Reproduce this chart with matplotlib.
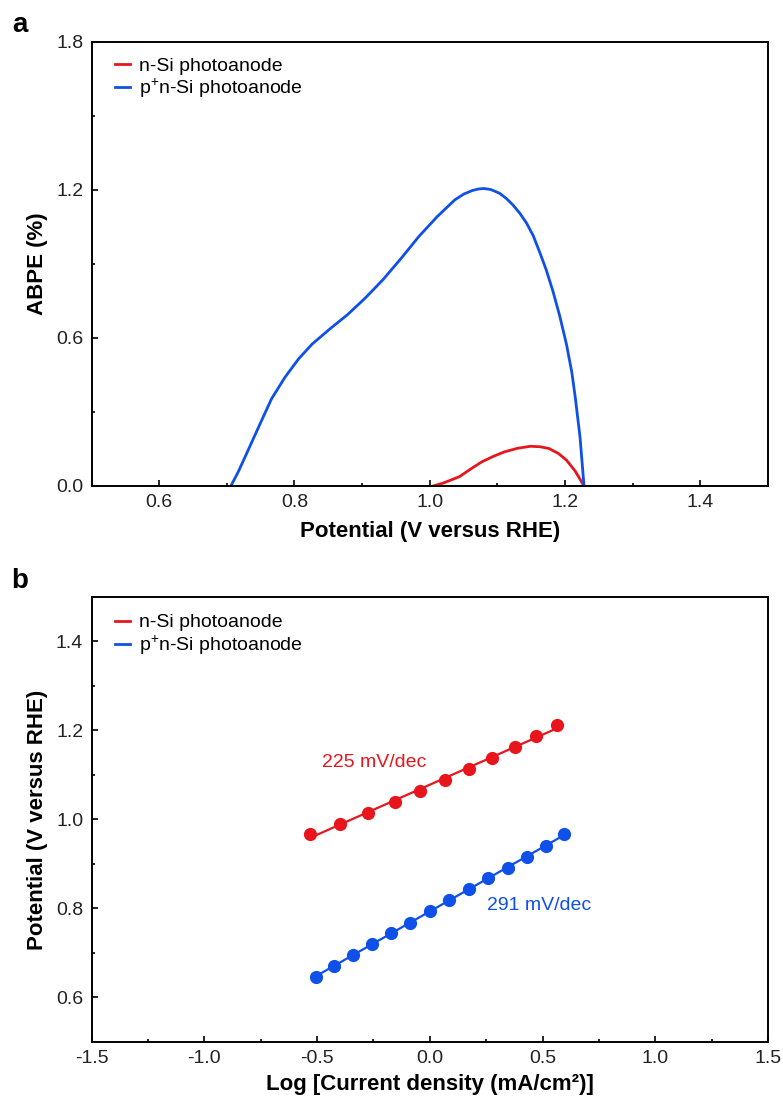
import numpy as np
import matplotlib
matplotlib.use('Agg')
import matplotlib.pyplot as plt
from matplotlib.ticker import MultipleLocator
from matplotlib.lines import Line2D

plt.rcParams['font.family'] = ['Liberation Sans', 'DejaVu Sans']
plt.rcParams['mathtext.default'] = 'regular'
plt.rcParams['axes.unicode_minus'] = False

# ---- panel a: ABPE curves ----
pot_p = [0.706, 0.717, 0.727, 0.747, 0.766, 0.786, 0.806, 0.826, 0.852, 0.879, 0.905,
         0.931, 0.958, 0.984, 1.011, 1.037, 1.050, 1.063, 1.072, 1.080, 1.090, 1.103,
         1.113, 1.123, 1.133, 1.143, 1.153, 1.162, 1.172, 1.182, 1.192, 1.202,
         1.210, 1.215, 1.222, 1.228]
abpe_p = [0.0, 0.058, 0.118, 0.239, 0.353, 0.441, 0.515, 0.575, 0.636, 0.696, 0.763,
          0.837, 0.924, 1.012, 1.092, 1.160, 1.183, 1.198, 1.204, 1.206, 1.202, 1.187,
          1.166, 1.139, 1.106, 1.066, 1.014, 0.951, 0.877, 0.790, 0.690, 0.575,
          0.460, 0.360, 0.200, 0.0]
pot_n = [1.005, 1.020, 1.044, 1.060, 1.077, 1.094, 1.110, 1.130, 1.149, 1.163, 1.176,
         1.190, 1.202, 1.215, 1.228]
abpe_n = [0.0, 0.012, 0.038, 0.068, 0.098, 0.120, 0.138, 0.153, 0.161, 0.159, 0.152,
          0.132, 0.105, 0.060, 0.0]

# ---- panel b: Tafel data ----
logj_n = [-0.532, -0.398, -0.273, -0.154, -0.043, 0.068, 0.175, 0.275, 0.378, 0.471, 0.563]
v_n = [0.967, 0.990, 1.015, 1.040, 1.064, 1.089, 1.113, 1.138, 1.162, 1.188, 1.212]
logj_p = [-0.505, -0.425, -0.342, -0.258, -0.172, -0.088, 0.001, 0.087, 0.174, 0.260,
          0.346, 0.430, 0.514, 0.597]
v_p = [0.647, 0.671, 0.695, 0.720, 0.744, 0.768, 0.794, 0.819, 0.843, 0.868,
       0.892, 0.916, 0.941, 0.967]

labels = ['n-Si photoanode', 'p$^{+}$n-Si photoanode']
slopes = ['225 mV/dec', '291 mV/dec']
red = '#E8151D'
blue = '#0F50E8'

fig = plt.figure(figsize=(7.83, 10.99), dpi=100)
ax1 = fig.add_axes([0.1169, 0.5578, 0.8640, 0.4040])
ax2 = fig.add_axes([0.1169, 0.0519, 0.8640, 0.4049])


def style(ax):
    for s in ax.spines.values():
        s.set_linewidth(1.4)
    ax.tick_params(which='both', direction='in', top=False, right=False,
                   labelsize=14, width=1.2, pad=6, labelcolor='#222222')
    ax.tick_params(which='major', length=4.5)
    ax.tick_params(which='minor', length=2.5)


ax1.plot(pot_n, abpe_n, color=red, lw=2.0, label=labels[0])
ax1.plot(pot_p, abpe_p, color=blue, lw=2.0, label=labels[1])
ax1.set_xlim(0.5, 1.5)
ax1.set_ylim(0, 1.8)
ax1.set_xticks([0.6, 0.8, 1.0, 1.2, 1.4])
ax1.xaxis.set_minor_locator(MultipleLocator(0.1))
ax1.yaxis.set_major_locator(MultipleLocator(0.6))
ax1.yaxis.set_minor_locator(MultipleLocator(0.3))
style(ax1)
ax1.set_xlabel('Potential (V versus RHE)', fontsize=16, fontweight='bold', labelpad=7)
ax1.set_ylabel('ABPE (%)', fontsize=16, fontweight='bold', labelpad=6)
ax1.legend(loc='upper left', bbox_to_anchor=(0.034, 0.965), frameon=False, fontsize=14,
           handlelength=0.8, handletextpad=0.45, labelspacing=0.1,
           borderpad=0, borderaxespad=0)

# panel b
for xs, ys, c in [(logj_n, v_n, red), (logj_p, v_p, blue)]:
    k, b0 = np.polyfit(xs, ys, 1)
    xx = np.array([xs[0], xs[-1]])
    ax2.plot(xx, k * xx + b0, color=c, lw=1.6)
    ax2.plot(xs, ys, 'o', color=c, ms=9.5, mec='none')
handles = [Line2D([], [], color=red, lw=2.0), Line2D([], [], color=blue, lw=2.0)]
ax2.legend(handles, labels, loc='upper left', bbox_to_anchor=(0.034, 0.962), frameon=False,
           fontsize=14, handlelength=0.8, handletextpad=0.45, labelspacing=0.1,
           borderpad=0, borderaxespad=0)
ax2.text(-0.48, 1.127, slopes[0], color=red, fontsize=14, va='center', ha='left')
ax2.text(0.254, 0.806, slopes[1], color=blue, fontsize=14, va='center', ha='left')
ax2.set_xlim(-1.5, 1.5)
ax2.set_ylim(0.5, 1.5)
ax2.xaxis.set_major_locator(MultipleLocator(0.5))
ax2.xaxis.set_minor_locator(MultipleLocator(0.25))
ax2.set_yticks([0.6, 0.8, 1.0, 1.2, 1.4])
ax2.yaxis.set_minor_locator(MultipleLocator(0.1))
style(ax2)
ax2.set_xlabel('Log [Current density (mA/cm²)]', fontsize=16, fontweight='bold', labelpad=5)
ax2.set_ylabel('Potential (V versus RHE)', fontsize=16, fontweight='bold', labelpad=6)

fig.text(20 / 783, 1 - 25 / 1099, 'a', fontsize=20, fontweight='bold', ha='center', va='center')
fig.text(20 / 783, 1 - 581 / 1099, 'b', fontsize=20, fontweight='bold', ha='center', va='center')

fig.savefig('out.png', dpi=100)
